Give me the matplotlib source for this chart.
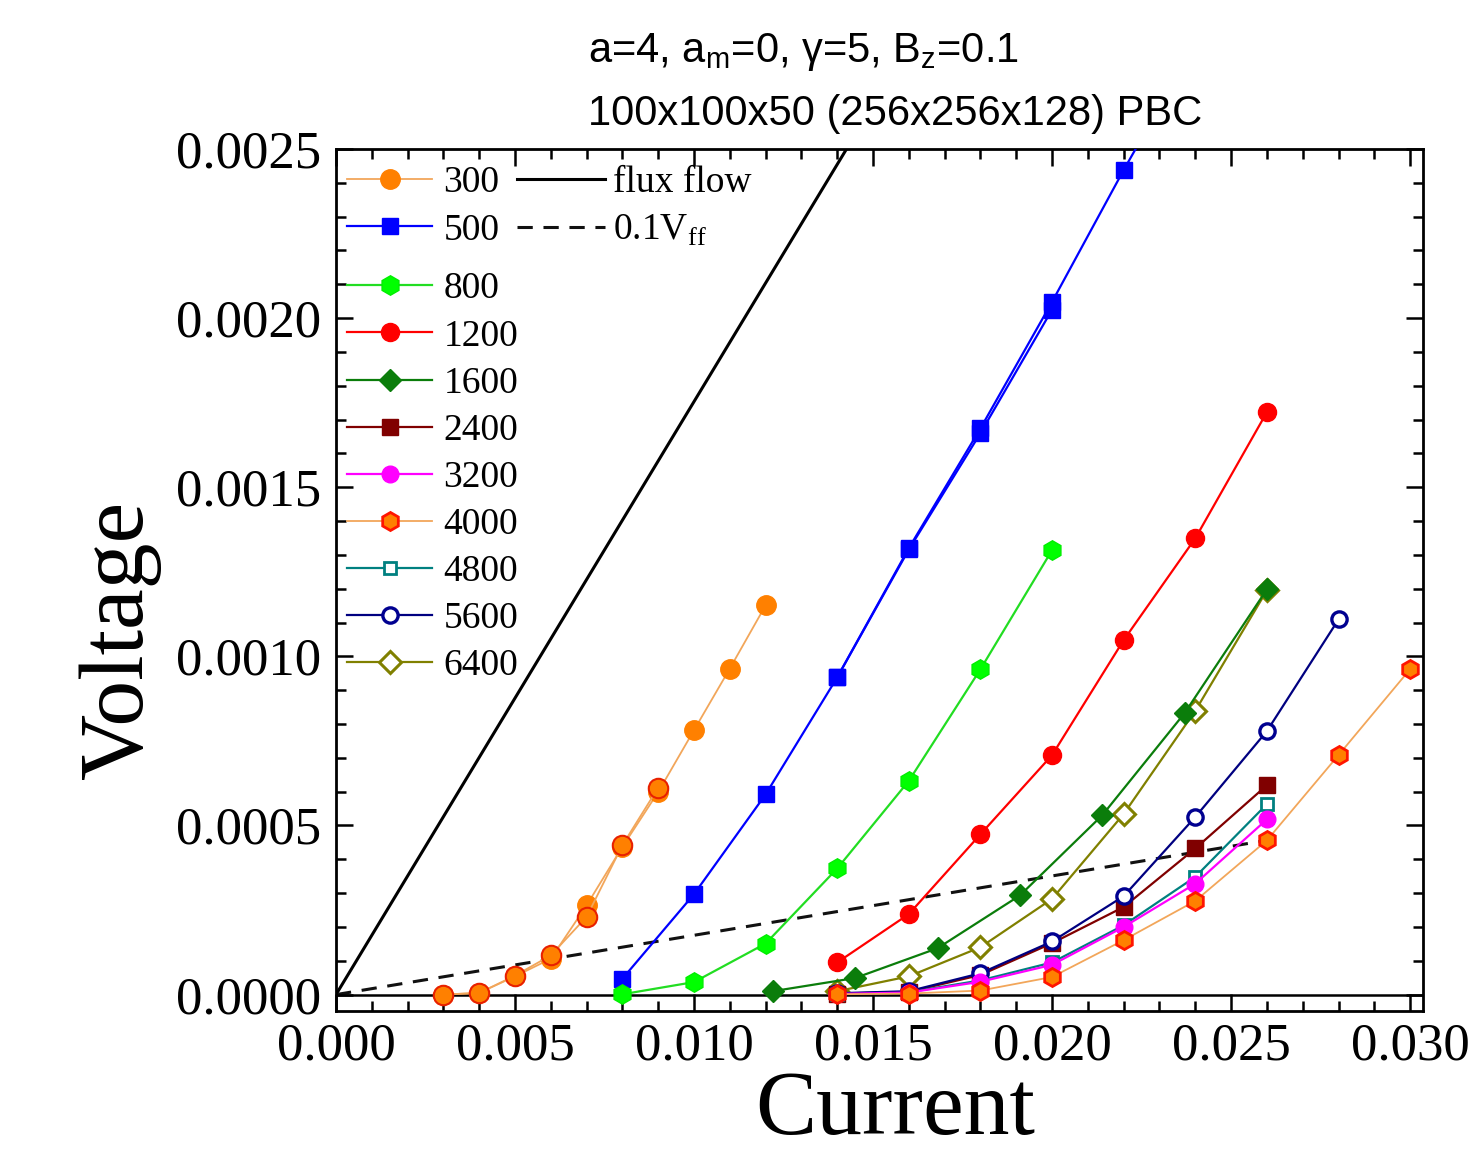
import matplotlib
matplotlib.use('Agg')
import matplotlib.pyplot as plt
from matplotlib.ticker import MultipleLocator, FormatStrFormatter

plt.rcParams['font.family'] = ['Liberation Serif', 'DejaVu Serif']
plt.rcParams['mathtext.fontset'] = 'custom'
plt.rcParams['mathtext.rm'] = 'Liberation Serif'

# ---------------- data ----------------
cur_300 = [0.003, 0.004, 0.005, 0.006, 0.007, 0.008, 0.009, 0.010, 0.011, 0.012]
v_300 = [0.0, 0.000005, 0.000054, 0.000106, 0.000264, 0.000437, 0.000599, 0.000782, 0.000964, 0.001151]
cur_300b = [0.003, 0.004, 0.005, 0.006, 0.007, 0.008, 0.009]
v_300b = [0.0, 0.000005, 0.000056, 0.000116, 0.000230, 0.000442, 0.000612]

cur_500 = [0.008, 0.010, 0.012, 0.014, 0.016, 0.018, 0.020, 0.022, 0.024]
v_500 = [0.000047, 0.000297, 0.000592, 0.000938, 0.001320, 0.001674, 0.002048, 0.002438, 0.002810]
cur_500b = [0.014, 0.016, 0.018, 0.020]
v_500b = [0.000938, 0.001316, 0.001660, 0.002025]

cur_800 = [0.008, 0.010, 0.012, 0.014, 0.016, 0.018, 0.020]
v_800 = [0.000001, 0.000037, 0.000151, 0.000373, 0.000632, 0.000962, 0.001314]

cur_1200 = [0.014, 0.016, 0.018, 0.020, 0.022, 0.024, 0.026]
v_1200 = [0.000095, 0.000238, 0.000474, 0.000708, 0.001048, 0.001349, 0.001722]

cur_1600 = [0.0122, 0.0145, 0.0168, 0.0191, 0.0214, 0.0237, 0.0260]
v_1600 = [0.000010, 0.000049, 0.000137, 0.000293, 0.000530, 0.000832, 0.001198]

cur_cluster = [0.014, 0.016, 0.018, 0.020, 0.022, 0.024, 0.026]
v_2400 = [0.000003, 0.000008, 0.000058, 0.000152, 0.000259, 0.000432, 0.000619]
v_3200 = [0.000002, 0.000006, 0.000038, 0.000088, 0.000200, 0.000328, 0.000518]
v_4800 = [0.000003, 0.000007, 0.000042, 0.000095, 0.000205, 0.000348, 0.000563]

cur_4000 = [0.014, 0.016, 0.018, 0.020, 0.022, 0.024, 0.026, 0.028, 0.030]
v_4000 = [0.000001, 0.000003, 0.000012, 0.000052, 0.000161, 0.000277, 0.000456, 0.000708, 0.000962]

cur_5600 = [0.014, 0.016, 0.018, 0.020, 0.022, 0.024, 0.026, 0.028]
v_5600 = [0.000004, 0.000010, 0.000063, 0.000157, 0.000291, 0.000525, 0.000779, 0.001109]

cur_6400 = [0.014, 0.016, 0.018, 0.020, 0.022, 0.024, 0.026]
v_6400 = [0.000010, 0.000054, 0.000140, 0.000283, 0.000534, 0.000839, 0.001195]

ff_current = [0.0, 0.0304]
ff_voltage = [0.0, 0.00533]
vff_current = [0.0, 0.026]
vff_voltage = [0.0, 0.000456]

title_line1 = "a=4, a$_\\mathregular{m}$=0, γ=5, B$_\\mathregular{z}$=0.1"
title_line2 = "100x100x50 (256x256x128) PBC"

# ---------------- figure ----------------
W, H = 1479, 1153
fig = plt.figure(figsize=(W / 100, H / 100), dpi=100)
ax = fig.add_axes([336 / W, 1 - 1011 / H, (1423 - 336) / W, (1011 - 149) / H])

ORANGE = '#FF8000'
SANDY = '#F2A65A'
lw = 1.6

h300, = ax.plot(cur_300, v_300, '-o', color=SANDY, lw=1.3, ms=14, mfc=ORANGE, mec=ORANGE, label='300', zorder=3)
ax.plot(cur_300b, v_300b, '-o', color=SANDY, lw=1.3, ms=14, mfc=ORANGE, mec='#E82000', mew=1.5, zorder=3.1)
h500, = ax.plot(cur_500, v_500, '-s', color='#0000FF', lw=lw, ms=12, mfc='#0000FF', mec='#0000FF', label='500', zorder=3)
ax.plot(cur_500b, v_500b, '-s', color='#0000FF', lw=lw, ms=12, mfc='#0000FF', mec='#0000FF', zorder=3)
h800, = ax.plot(cur_800, v_800, '-h', color='#22DD22', lw=lw, ms=14, mfc='#00FF00', mec='#00EE00', label='800', zorder=3)
h1200, = ax.plot(cur_1200, v_1200, '-o', color='#FF0000', lw=lw, ms=13, mfc='#FF0000', mec='#FF0000', label='1200', zorder=3)
h6400, = ax.plot(cur_6400, v_6400, '-D', color='#808000', lw=lw, ms=11, mfc='white', mec='#808000', mew=2.2, label='6400', zorder=2.9)
h1600, = ax.plot(cur_1600, v_1600, '-D', color='#0B7D0B', lw=lw, ms=11, mfc='#0B7D0B', mec='#0B7D0B', label='1600', zorder=3)
h2400, = ax.plot(cur_cluster, v_2400, '-s', color='#800000', lw=lw, ms=11, mfc='#800000', mec='#800000', label='2400', zorder=3)
h4800, = ax.plot(cur_cluster, v_4800, '-s', color='#008080', lw=lw, ms=9, mfc='white', mec='#008080', mew=2.0, label='4800', zorder=3)
h3200, = ax.plot(cur_cluster, v_3200, '-o', color='#FF00FF', lw=lw, ms=12, mfc='#FF00FF', mec='#FF00FF', label='3200', zorder=3.1)
h4000, = ax.plot(cur_4000, v_4000, '-h', color=SANDY, lw=1.3, ms=13, mfc=ORANGE, mec='#FF1500', mew=2.0, label='4000', zorder=3.2)
h5600, = ax.plot(cur_5600, v_5600, '-o', color='#000080', lw=lw, ms=11, mfc='white', mec='#000090', mew=2.4, label='5600', zorder=3)

hff, = ax.plot(ff_current, ff_voltage, '-', color='black', lw=2.2, label='flux flow', zorder=2)
hvff, = ax.plot(vff_current, vff_voltage, color='#111111', lw=2.2, dashes=(5, 3.5), label='0.1V$_\\mathregular{ff}$', zorder=2)
ax.axhline(0.0, color='black', lw=1.8, zorder=2)

ax.set_xlim(0.0, 0.03036)
ax.set_ylim(-0.0000485, 0.0025)

ax.xaxis.set_major_locator(MultipleLocator(0.005))
ax.xaxis.set_minor_locator(MultipleLocator(0.001))
ax.yaxis.set_major_locator(MultipleLocator(0.0005))
ax.yaxis.set_minor_locator(MultipleLocator(0.0001))
ax.xaxis.set_major_formatter(FormatStrFormatter('%.3f'))
ax.yaxis.set_major_formatter(FormatStrFormatter('%.4f'))

ax.tick_params(which='both', direction='in', top=True, right=True, width=1.8)
ax.tick_params(which='major', length=12, labelsize=38)
ax.tick_params(which='minor', length=7)
ax.tick_params(axis='x', pad=8)
ax.tick_params(axis='y', pad=11)
for sp in ax.spines.values():
    sp.set_linewidth(2.0)

# legends
fs = 27
common = dict(bbox_transform=fig.transFigure, frameon=False, fontsize=fs, numpoints=1,
              labelspacing=0.335, borderpad=0, borderaxespad=0, loc='upper left')
legA = ax.legend(handles=[h300, h500], bbox_to_anchor=(347 / W, 1 - 166 / H),
                 handlelength=2.27, handletextpad=0.30, **common)
ax.add_artist(legA)
legB = ax.legend(handles=[hff, hvff], bbox_to_anchor=(517 / W, 1 - 166 / H),
                 handlelength=2.35, handletextpad=0.2, **common)
ax.add_artist(legB)
ax.legend(handles=[h800, h1200, h1600, h2400, h3200, h4000, h4800, h5600, h6400],
          bbox_to_anchor=(347 / W, 1 - 272 / H), handlelength=2.27, handletextpad=0.30, **common)

# titles and axis labels
fig.text(588 / W, 1 - 62 / H, title_line1, family=['Liberation Sans', 'DejaVu Sans'], fontsize=30,
         ha='left', va='baseline')
fig.text(588 / W, 1 - 125 / H, title_line2, family=['Liberation Sans', 'DejaVu Sans'], fontsize=30,
         ha='left', va='baseline')
fig.text(895 / W, 1 - 1134 / H, 'Current', fontsize=66, ha='center', va='baseline')
fig.text(120 / W, 1 - 640 / H, 'Voltage', fontsize=66, ha='center', va='center', rotation=90)

fig.savefig('out.png', dpi=100)
